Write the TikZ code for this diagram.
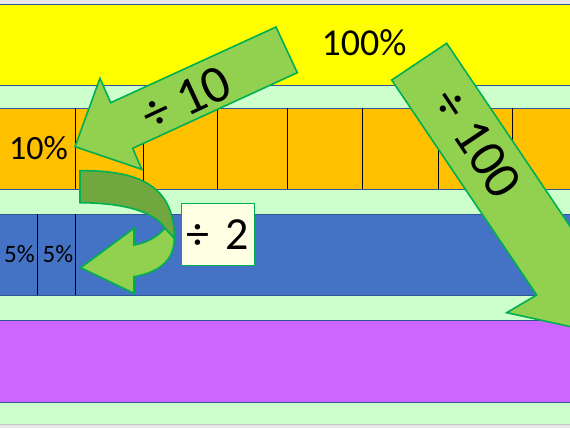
\documentclass[tikz,border=0pt]{standalone}
\usepackage{fontspec}
\setmainfont{Carlito}
\usetikzlibrary{positioning}
\definecolor{barYellow}{HTML}{FFFF00}
\definecolor{gapGreen}{HTML}{CCFFCC}
\definecolor{barOrange}{HTML}{FFC000}
\definecolor{barBlue}{HTML}{4472C4}
\definecolor{barPurple}{HTML}{CC66FF}
\definecolor{bandLine}{HTML}{2F5597}
\definecolor{arrowFill}{HTML}{92D050}
\definecolor{arrowDark}{HTML}{70A83F}
\definecolor{arrowLine}{HTML}{00B050}
\definecolor{noteFill}{HTML}{FFFFE3}
\tikzset{
  band/.style={draw=bandLine, line width=0.9pt},
  cellline/.style={draw=black, line width=0.9pt},
  blockarrow/.style={draw=arrowLine, fill=arrowFill, line width=1.6pt, line join=miter},
  foldpart/.style={draw=arrowLine, fill=arrowDark, line width=1.6pt},
  pct/.style={inner sep=0pt, text=black},
  divlabel/.style={font=\fontsize{53}{53}\selectfont, inner sep=0pt},
  notebox/.style={draw=arrowLine, fill=noteFill, line width=0.9pt, text width=63pt, align=left, inner xsep=5pt, inner ysep=0pt, minimum height=62pt, font=\fontsize{46}{46}\selectfont}
}

\begin{document}
\begin{tikzpicture}[x=1pt, y=-1pt]
  \useasboundingbox (0,0) rectangle (570,428);
  \clip (0,0) rectangle (570,428);
  % background and bars
  \fill[gray!18] (0,0) rectangle (570,428);
  \fill[gapGreen] (0,4.5) rectangle (570,424);
  \draw[gray!45, line width=0.8pt] (-2,424) -- (572,424);
  \path[band, fill=barYellow] (-2,4.5) rectangle (572,85);
  \path[band, fill=barOrange] (-2,108) rectangle (572,189);
  \path[band, fill=barBlue] (-2,214) rectangle (572,295);
  \path[band, fill=barPurple] (-2,320) rectangle (572,402);
  % cell dividers
  \foreach \x in {75,143,217,287,362,438,512}
    \draw[cellline] (\x,108) -- (\x,189);
  \foreach \x in {37,75}
    \draw[cellline] (\x,214) -- (\x,295);
  % percent labels
  \node[pct, font=\fontsize{38}{38}\selectfont] (whole) at (364,43) {100\%};
  \node[pct, font=\fontsize{34}{34}\selectfont] (tenpc) at (38.5,148) {10\%};
  \node[pct, font=\fontsize{25}{25}\selectfont] (fiveA) at (19.5,254) {5\%};
  \node[pct, font=\fontsize{25}{25}\selectfont] (fiveB) at (58,254) {5\%};
  % divide by 10
  \path[blockarrow] (276,27) -- (110.7,102.7) -- (100,78.3) -- (75,146.7)
    -- (141.7,169.3) -- (132.7,148.3) -- (297.3,72.7) -- cycle;
  \node[divlabel, rotate=25] (tenth) at (186,99) {÷ 10};
  % divide by 2
  \path[blockarrow] (165,228.3) .. controls (156,238) and (146,243) .. (134,245)
    -- (134,228.3) -- (80.7,267.7) -- (134,293.3) -- (134,276.7)
    .. controls (160,272) and (174.3,260) .. (174.3,238) -- cycle;
  \path[foldpart] (80,170.7) .. controls (145,170) and (174.3,190) .. (174.3,238)
    -- (165,228.3) .. controls (155,212) and (125,203) .. (80,202.7) -- cycle;
  \node[notebox] (half) at (218.3,234.2) {÷ 2};
  % divide by 100
  \path[blockarrow] (446.7,43.3) -- (391.7,80) -- (536.7,295) -- (506.7,312.7)
    -- (602,333.5) -- (621.6,238.4) -- (591.7,258.4) -- cycle;
  \node[divlabel, rotate=-56.3] (hundredth) at (477,143) {÷ 100};
\end{tikzpicture}
\end{document}
